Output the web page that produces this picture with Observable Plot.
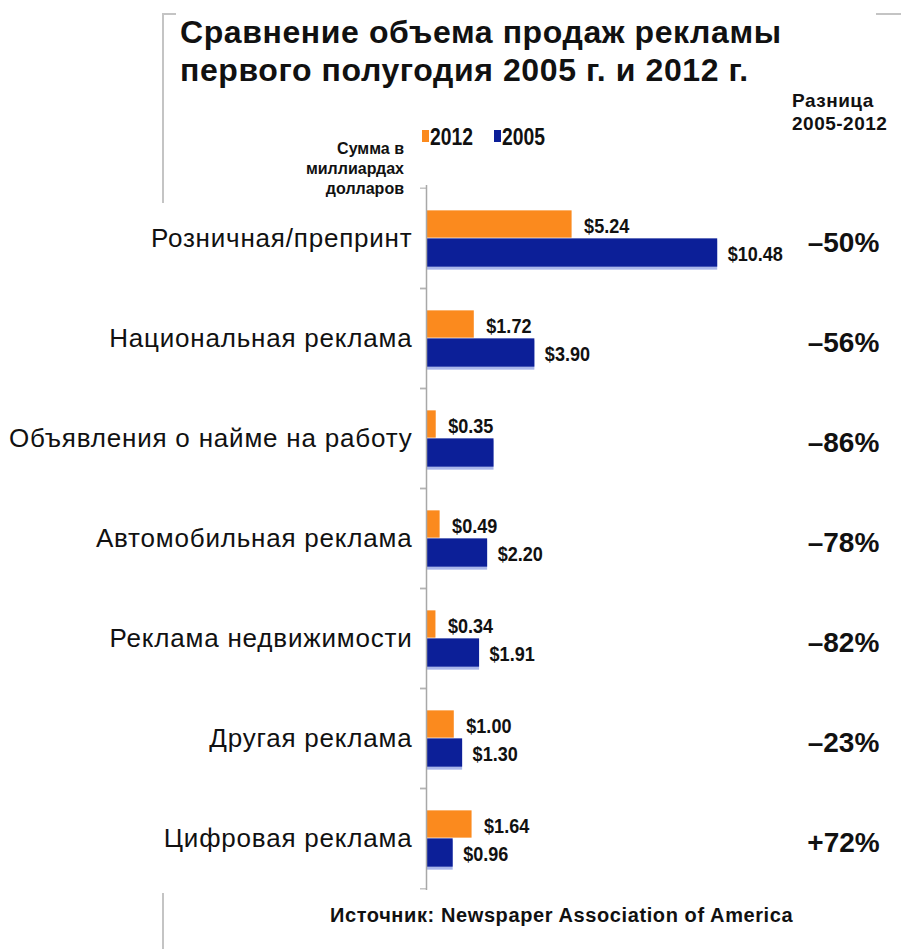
<!DOCTYPE html>
<html><head><meta charset="utf-8">
<script src="https://cdn.jsdelivr.net/npm/d3@7"></script>
<script src="https://cdn.jsdelivr.net/npm/@observablehq/plot@0.6"></script>
<style>
body{margin:0;background:#fff;}
#wrap{position:relative;width:901px;height:949px;overflow:hidden;font-family:"Liberation Sans",Arial,sans-serif;color:#111;}
.abs{position:absolute;white-space:nowrap;}
.gl{position:absolute;background:#c4c4c4;}
#chart{position:absolute;left:0;top:175px;}
.sq{position:absolute;width:7px;height:12px;top:130px;}
.lg{position:absolute;top:125px;font-size:23px;line-height:24px;font-weight:bold;transform:scaleX(0.84);transform-origin:left center;}
#chart g[aria-label="y-axis tick label"] text{letter-spacing:0.8px;}
</style></head><body>
<div id="wrap">
  <div class="gl" style="left:162px;top:13px;width:2px;height:190px;"></div>
  <div class="gl" style="left:162px;top:13px;width:14px;height:2px;"></div>
  <div class="gl" style="left:876px;top:13px;width:25px;height:2px;"></div>
  <div class="gl" style="left:162px;top:893px;width:2px;height:56px;"></div>
  <div id="title" class="abs" style="left:180px;top:13px;font-size:32px;font-weight:bold;line-height:38px;letter-spacing:0.6px;"></div>
  <div id="diffhead" class="abs" style="left:792px;top:89px;font-size:19px;line-height:23px;font-weight:bold;letter-spacing:0.5px;"></div>
  <div id="ytitle" class="abs" style="right:497px;top:139px;font-size:16px;line-height:20px;font-weight:bold;text-align:right;"></div>
  <div id="legend"></div>
  <div id="chart"></div>
  <div id="source" class="abs" style="left:330px;top:903px;font-size:20px;line-height:24px;font-weight:bold;letter-spacing:0.6px;"></div>
</div>
<script>
const titleLines = ["Сравнение объема продаж рекламы", "первого полугодия 2005 г. и 2012 г."];
const diffHeader = ["Разница", "2005-2012"];
const yTitleLines = ["Сумма в", "миллиардах", "долларов"];
const sourceText = "Источник: Newspaper Association of America";
const years = ["2012", "2005"];
const colors = ["#fb8a1e", "#0c1f98"];
const categories = ["Розничная/препринт", "Национальная реклама", "Объявления о найме на работу", "Автомобильная реклама", "Реклама недвижимости", "Другая реклама", "Цифровая реклама"];
const values2012 = [5.24, 1.72, 0.35, 0.49, 0.34, 1.00, 1.64];
const values2005 = [10.48, 3.90, 2.43, 2.20, 1.91, 1.30, 0.96];
const show2005Label = [true, true, false, true, true, true, true];
const differences = ["–50%", "–56%", "–86%", "–78%", "–82%", "–23%", "+72%"];

document.getElementById("title").innerHTML = titleLines.join("<br>");
document.getElementById("diffhead").innerHTML = diffHeader.join("<br>");
document.getElementById("ytitle").innerHTML = yTitleLines.join("<br>");
document.getElementById("source").textContent = sourceText;
const legendLeft = [422, 494];
document.getElementById("legend").innerHTML = years.map((y, i) =>
  `<span class="sq" style="left:${legendLeft[i]}px;background:${colors[i]}"></span><span class="lg" style="left:${legendLeft[i] + 8}px">${y}</span>`).join("");

const fmt = v => "$" + v.toFixed(2);
const rows2012 = categories.map((c, i) => ({category: c, value: values2012[i], label: fmt(values2012[i])}));
const rows2005 = categories.map((c, i) => ({category: c, value: values2005[i], label: show2005Label[i] ? fmt(values2005[i]) : ""}));
const rowsDiff = categories.map((c, i) => ({category: c, diff: differences[i]}));

const width = 901, marginTop = 10, marginBottom = 10, marginLeft = 426, marginRight = 86;
const height = 725;
const step = (height - marginTop - marginBottom) / categories.length;
const half = step / 2;
const sans = "Liberation Sans, Arial, sans-serif";

const chart = Plot.plot({
  width, height, marginTop, marginBottom, marginLeft, marginRight,
  style: {fontFamily: sans, color: "#111", background: "transparent"},
  x: {domain: [0, 14], axis: null},
  y: {domain: categories, padding: 0, label: null},
  marks: [
    Plot.axisY({tickSize: 0, tickPadding: 14, fontSize: 26, label: null, fill: "#111"}),
    Plot.axisY({tickSize: 6, tickFormat: () => "", dy: -half, stroke: "#a8a8a8", label: null}),
    Plot.axisY({tickSize: 6, tickFormat: () => "", dy: half, stroke: "#a8a8a8", label: null}),
    Plot.barX(rows2005, {x: "value", y: "category", fill: "#a9b6ea", insetTop: half + 2, insetBottom: half - 32}),
    Plot.barX(rows2012, {x: "value", y: "category", fill: colors[0], insetTop: half - 28, insetBottom: half}),
    Plot.barX(rows2005, {x: "value", y: "category", fill: colors[1], insetTop: half, insetBottom: half - 29}),
    Plot.ruleX([0], {stroke: "#a8a8a8", strokeWidth: 1.5}),
    Plot.text(rows2012, {x: "value", y: "category", text: "label", dx: 12, dy: -12, textAnchor: "start", fontFamily: sans, fontWeight: "bold", fontSize: 21, fill: "#111", className: "barlabel"}),
    Plot.text(rows2005, {x: "value", y: "category", text: "label", dx: 10, dy: 16, textAnchor: "start", fontFamily: sans, fontWeight: "bold", fontSize: 21, fill: "#111", className: "barlabel"}),
    Plot.text(rowsDiff, {y: "category", text: "diff", frameAnchor: "right", dx: 28, dy: 5, textAnchor: "middle", fontFamily: sans, fontWeight: "bold", fontSize: 28, fill: "#111"})
  ]
});
// condensed look for bar value labels: squeeze each label horizontally about its own anchor
chart.querySelectorAll("g.barlabel text").forEach(t => {
  const tr = t.getAttribute("transform") || "";
  t.setAttribute("transform", (tr + " scale(0.86 1)").trim());
});
document.getElementById("chart").appendChild(chart);
</script>
</body></html>
